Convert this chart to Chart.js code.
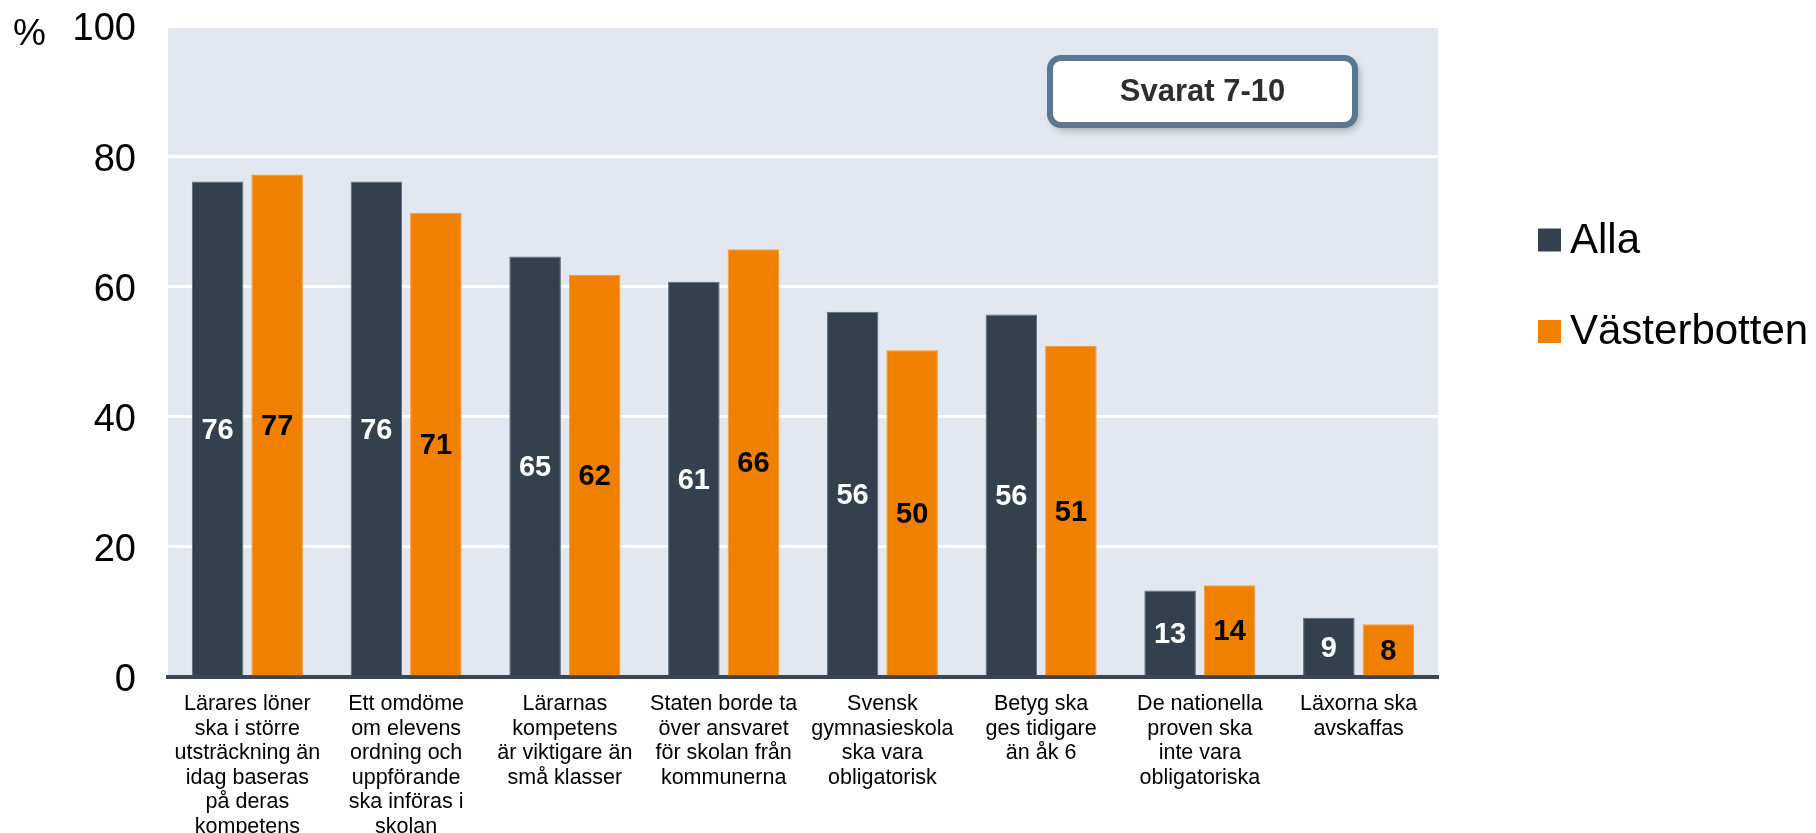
<!DOCTYPE html>
<html>
<head>
<meta charset="utf-8">
<script src="https://cdn.jsdelivr.net/npm/chart.js@4"></script>
<style>
  html, body { margin: 0; padding: 0; background: #fff; }
  #wrap { width: 1816px; height: 833px; }
</style>
</head>
<body>
<div id="wrap"><canvas id="chart"></canvas></div>
<script>
// categories (x labels, split into lines as in the original)
const categories = [
    ['Lärares löner', 'ska i större', 'utsträckning än', 'idag baseras', 'på deras', 'kompetens'],
    ['Ett omdöme', 'om elevens', 'ordning och', 'uppförande', 'ska införas i', 'skolan'],
    ['Lärarnas', 'kompetens', 'är viktigare än', 'små klasser'],
    ['Staten borde ta', 'över ansvaret', 'för skolan från', 'kommunerna'],
    ['Svensk', 'gymnasieskola', 'ska vara', 'obligatorisk'],
    ['Betyg ska', 'ges tidigare', 'än åk 6'],
    ['De nationella', 'proven ska', 'inte vara', 'obligatoriska'],
    ['Läxorna ska', 'avskaffas']
];

const seriesNames = ['Alla', 'Västerbotten'];
const alla = [76.1, 76.1, 64.6, 60.7, 56.1, 55.7, 13.3, 9.1];
const vasterbotten = [77.2, 71.3, 61.8, 65.7, 50.2, 50.9, 14.1, 8.1];

const yTicks = [0, 20, 40, 60, 80, 100];
const unitLabel = '%';
const boxLabel = 'Svarat 7-10';

const colors = ['#34404e', '#ef8000'];
const edgeColors = ['#5e6977', '#f39a33'];
const labelColors = ['#ffffff', '#000000'];
const FONT = '"Liberation Sans", Arial, sans-serif';

// plot background
const plotBg = {
    id: 'plotBg',
    beforeDraw(chart) {
        const { ctx, chartArea: a } = chart;
        ctx.save();
        ctx.fillStyle = '#e3e8f0';
        ctx.fillRect(a.left, a.top, a.right - a.left, a.bottom - a.top);
        ctx.restore();
    }
};

// numbers inside the bars, the % sign, legend and the "Svarat" box
const extras = {
    id: 'extras',
    afterDatasetsDraw(chart) {
        const ctx = chart.ctx;
        ctx.save();
        ctx.font = 'bold 29px ' + FONT;
        ctx.textAlign = 'center';
        ctx.textBaseline = 'middle';
        chart.data.datasets.forEach((ds, i) => {
            const meta = chart.getDatasetMeta(i);
            meta.data.forEach((bar, j) => {
                ctx.fillStyle = labelColors[i];
                ctx.fillText(Math.round(ds.data[j]), bar.x, (bar.y + bar.base) / 2 + 2);
            });
        });
        ctx.restore();
    },
    afterDraw(chart) {
        const ctx = chart.ctx;
        ctx.save();

        // unit sign
        ctx.fillStyle = '#000';
        ctx.font = '37px ' + FONT;
        ctx.textAlign = 'left';
        ctx.textBaseline = 'middle';
        ctx.fillText(unitLabel, 13, 35);

        // legend
        ctx.font = '42px ' + FONT;
        seriesNames.forEach((name, i) => {
            const cy = 240 + i * 91.5;
            ctx.fillStyle = colors[i];
            ctx.fillRect(1538, cy - 11.5, 23, 23);
            ctx.fillStyle = '#000';
            ctx.fillText(name, 1570, cy + 1);
        });

        // "Svarat 7-10" box
        const bx = 1050, by = 58, bw = 305, bh = 67;
        ctx.shadowColor = 'rgba(0,0,0,0.35)';
        ctx.shadowBlur = 8;
        ctx.shadowOffsetX = 3;
        ctx.shadowOffsetY = 4;
        ctx.beginPath();
        ctx.roundRect(bx, by, bw, bh, 11);
        ctx.fillStyle = '#ffffff';
        ctx.fill();
        ctx.shadowColor = 'transparent';
        ctx.lineWidth = 6;
        ctx.strokeStyle = '#5a7691';
        ctx.stroke();
        ctx.fillStyle = '#2e2e2e';
        ctx.font = 'bold 31px ' + FONT;
        ctx.textAlign = 'center';
        ctx.fillText(boxLabel, bx + bw / 2, by + bh / 2 + 1);

        ctx.restore();
    }
};

new Chart(document.getElementById('chart').getContext('2d'), {
    type: 'bar',
    data: {
        labels: categories,
        datasets: [alla, vasterbotten].map((values, i) => ({
            label: seriesNames[i],
            data: values,
            backgroundColor: colors[i],
            borderColor: edgeColors[i],
            borderWidth: 1,
            categoryPercentage: 0.75,
            barPercentage: 0.866
        }))
    },
    options: {
        responsive: true,
        maintainAspectRatio: false,
        animation: false,
        layout: { padding: { top: 26, right: 378, left: 0, bottom: 0 } },
        plugins: {
            legend: { display: false },
            tooltip: { enabled: false }
        },
        scales: {
            x: {
                grid: { display: false, drawTicks: false },
                border: { display: true, color: '#3b4553', width: 4 },
                ticks: {
                    color: '#000',
                    padding: 15,
                    maxRotation: 0,
                    autoSkip: false,
                    font: { family: FONT, size: 21.5, lineHeight: 1.14 }
                },
                afterFit(scale) {
                    scale.height = 156;
                    scale.paddingLeft = 0;
                    scale.paddingRight = 0;
                }
            },
            y: {
                min: 0,
                max: 100,
                afterBuildTicks(scale) { scale.ticks = yTicks.map(v => ({ value: v })); },
                grid: { color: '#ffffff', lineWidth: 3, drawTicks: false },
                border: { display: false },
                ticks: {
                    color: '#000',
                    padding: 32,
                    labelOffset: 4,
                    font: { family: FONT, size: 38 }
                },
                afterFit(scale) {
                    scale.width = 168;
                    scale.paddingTop = 0;
                    scale.paddingBottom = 0;
                }
            }
        }
    },
    plugins: [plotBg, extras]
});
</script>
</body>
</html>
